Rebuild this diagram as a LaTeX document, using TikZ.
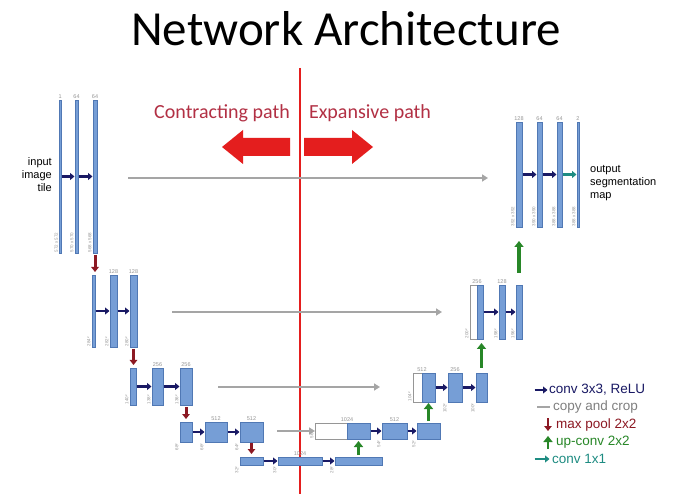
\documentclass[tikz,border=0pt]{standalone}
\usepackage{fontspec}
\setmainfont{Liberation Sans}
\newfontfamily\calib{Carlito}
\usetikzlibrary{arrows.meta}

\definecolor{barfill}{RGB}{118,158,214}
\definecolor{baredge}{RGB}{80,120,180}
\definecolor{convc}{RGB}{25,25,100}
\definecolor{copyc}{RGB}{165,165,165}
\definecolor{poolc}{RGB}{140,25,35}
\definecolor{upc}{RGB}{40,135,40}
\definecolor{onec}{RGB}{30,140,130}
\definecolor{redline}{RGB}{228,30,30}
\definecolor{pathtxt}{RGB}{178,48,68}
\definecolor{lblc}{RGB}{150,150,150}

\newcommand\mkbar[6][bar]{\node[#1, minimum width={#5-#3}, minimum height={#6-#4}] (#2) at ({(#3+#5)/2},{(#4+#6)/2}) {};}
\newcommand\toplab[3]{\node[toplbl] (#1-t) at (#2) {#3};}
\newcommand\sizelab[2]{\node[sizelbl] (#1-s) at ([xshift=-1pt]#1.south west) {#2};}
\newcommand\sizelabb[2]{\node[sizelblb] (#1-s) at ([xshift=-1pt,yshift=-1pt]#1.south west) {#2};}

\begin{document}
\begin{tikzpicture}[x=1pt,y=-1pt,
  bar/.style={rectangle, draw=baredge, fill=barfill, line width=0.6pt, inner sep=0pt, outer sep=0pt},
  wbar/.style={rectangle, draw=lblc, fill=white, line width=0.6pt, inner sep=0pt, outer sep=0pt},
  conv/.style={convc, line width=2.2pt, -{Triangle[length=4.5pt,width=7pt]}, shorten <=0.5pt, shorten >=0.5pt},
  copyarr/.style={copyc, line width=2pt, -{Triangle[length=6pt,width=7pt]}},
  pool/.style={poolc, line width=3pt, -{Triangle[length=5pt,width=7.5pt]}},
  upconv/.style={upc, line width=3.5pt, -{Triangle[length=6pt,width=9pt]}},
  onex/.style={onec, line width=2.2pt, -{Triangle[length=4.5pt,width=7pt]}, shorten <=0.5pt, shorten >=0.5pt},
  toplbl/.style={font=\fontsize{5.5}{6}\selectfont, text=lblc, anchor=south, inner sep=1pt},
  sizelbl/.style={font=\fontsize{4.5}{5}\selectfont, text=lblc, rotate=90, anchor=south west, inner sep=0.3pt},
  sizelblb/.style={font=\fontsize{4.5}{5}\selectfont, text=lblc, rotate=90, anchor=south east, inner sep=0.3pt},
  txt/.style={font=\fontsize{11}{13}\selectfont, text=black, inner sep=0pt},
  legtxt/.style={font=\fontsize{13.5}{15}\selectfont, anchor=west, inner sep=0pt},
  pathlbl/.style={font=\calib\fontsize{20}{22}\selectfont, text=pathtxt, inner sep=0pt, anchor=base}
]
\useasboundingbox (0,0) rectangle (683,494);
\fill[white] (0,0) rectangle (683,494);

% title
\node[font=\calib\fontsize{49}{52}\selectfont, anchor=base, inner sep=0pt] (title) at (346,46) {Network Architecture};

% red divider and path arrows
\coordinate (rtop) at (300,68);
\coordinate (rbot) at (300,494);
\draw[redline, line width=2pt] (rtop) -- (rbot);
\fill[redline] (290,138) -- (243,138) -- (243,130) -- (222,147) -- (243,164) -- (243,156) -- (290,156) -- cycle;
\fill[redline] (304,138) -- (352,138) -- (352,130) -- (373,147) -- (352,164) -- (352,156) -- (304,156) -- cycle;
\node[pathlbl] (ctr) at (222,119) {Contracting path};
\node[pathlbl] (exp) at (370,119) {Expansive path};

% ---------- bars ----------
% level 1 encoder
\mkbar{e11}{59.5}{100}{61}{253}
\mkbar{e12}{75}{100}{78}{253}
\mkbar{e13}{93}{100}{97}{253}
% level 2 encoder
\mkbar{e21}{92}{275}{95}{347}
\mkbar{e22}{110}{275}{117}{347}
\mkbar{e23}{130}{275}{137}{347}
% level 3 encoder
\mkbar{e31}{130}{368}{136}{405}
\mkbar{e32}{152}{368}{163}{405}
\mkbar{e33}{180}{368}{192}{405}
% level 4 encoder
\mkbar{e41}{180}{422}{192}{442}
\mkbar{e42}{205}{422}{227}{442}
\mkbar{e43}{240}{422}{263}{442}
% level 5
\mkbar{e51}{240}{457}{263}{465}
\mkbar{e52}{278}{457}{322}{465}
\mkbar{e53}{335}{457}{382}{465}
% level 4 decoder
\mkbar[wbar]{w4}{315}{423}{347}{439}
\mkbar{d41}{347}{423}{370}{439}
\mkbar{d42}{382}{423}{407}{439}
\mkbar{d43}{417}{423}{440}{439}
% level 3 decoder
\mkbar[wbar]{w3}{413}{373}{422}{402}
\mkbar{d31}{422}{373}{435}{402}
\mkbar{d32}{448}{373}{462}{402}
\mkbar{d33}{476}{373}{487}{402}
% level 2 decoder
\mkbar[wbar]{w2}{470}{285}{477}{339}
\mkbar{d21}{477}{285}{483}{339}
\mkbar{d22}{499}{285}{505}{339}
\mkbar{d23}{516}{285}{522}{339}
% level 1 decoder
\mkbar{d11}{516}{122}{522}{227}
\mkbar{d12}{537}{122}{542}{227}
\mkbar{d13}{557}{122}{562}{227}
\mkbar{d14}{577}{122}{579}{227}

% ---------- top labels ----------
\toplab{e11}{e11.north}{1}
\toplab{e12}{e12.north}{64}
\toplab{e13}{e13.north}{64}
\toplab{e22}{e22.north}{128}
\toplab{e23}{e23.north}{128}
\toplab{e32}{e32.north}{256}
\toplab{e33}{e33.north}{256}
\toplab{e42}{e42.north}{512}
\toplab{e43}{e43.north}{512}
\toplab{e52}{e52.north}{1024}
\toplab{w4}{w4.north east}{1024}
\toplab{d42}{d42.north}{512}
\toplab{w3}{w3.north east}{512}
\toplab{d32}{d32.north}{256}
\toplab{w2}{w2.north east}{256}
\toplab{d22}{d22.north}{128}
\toplab{d11}{d11.north}{128}
\toplab{d12}{d12.north}{64}
\toplab{d13}{d13.north}{64}
\toplab{d14}{d14.north}{2}

% ---------- size labels ----------
\sizelab{e11}{572 x 572}
\sizelab{e12}{570 x 570}
\sizelab{e13}{568 x 568}
\sizelab{e21}{284²}
\sizelab{e22}{282²}
\sizelab{e23}{280²}
\sizelab{e31}{140²}
\sizelab{e32}{138²}
\sizelab{e33}{136²}
\sizelabb{e41}{68²}
\sizelabb{e42}{66²}
\sizelabb{e43}{64²}
\sizelabb{e51}{32²}
\sizelabb{e52}{30²}
\sizelabb{e53}{28²}
\sizelab{w4}{56²}
\sizelabb{d42}{54²}
\sizelabb{d43}{52²}
\sizelab{w3}{104²}
\sizelabb{d32}{102²}
\sizelabb{d33}{100²}
\sizelab{w2}{200²}
\sizelab{d22}{198²}
\sizelab{d23}{196²}
\sizelab{d11}{392 x 392}
\sizelab{d12}{390 x 390}
\sizelab{d13}{388 x 388}
\sizelab{d14}{388 x 388}

% ---------- conv arrows ----------
\draw[conv] (e11.east) -- (e12.west);
\draw[conv] (e12.east) -- (e13.west);
\draw[conv] (e21.east) -- (e22.west);
\draw[conv] (e22.east) -- (e23.west);
\draw[conv] (e31.east) -- (e32.west);
\draw[conv] (e32.east) -- (e33.west);
\draw[conv] (e41.east) -- (e42.west);
\draw[conv] (e42.east) -- (e43.west);
\draw[conv] (e51.east) -- (e52.west);
\draw[conv] (e52.east) -- (e53.west);
\draw[conv] (d41.east) -- (d42.west);
\draw[conv] (d42.east) -- (d43.west);
\draw[conv] (d31.east) -- (d32.west);
\draw[conv] (d32.east) -- (d33.west);
\draw[conv] (d21.east) -- (d22.west);
\draw[conv] (d22.east) -- (d23.west);
\draw[conv] (d11.east) -- (d12.west);
\draw[conv] (d12.east) -- (d13.west);
\draw[onex] (d13.east) -- (d14.west);

% ---------- copy and crop ----------
\draw[copyarr, shorten <=31pt, shorten >=28pt] (e13.east |- 0,178) -- (d11.west |- 0,178);
\draw[copyarr, shorten <=35pt, shorten >=28pt] (e23.east |- 0,312) -- (w2.west |- 0,312);
\draw[copyarr, shorten <=26pt, shorten >=33pt] (e33.east |- 0,387) -- (w3.west |- 0,387);
\draw[copyarr, shorten <=14pt, shorten >=0pt] (e43.east |- 0,431) -- (w4.west |- 0,431);

% ---------- max pool ----------
\draw[pool, shorten <=2pt, shorten >=3pt] (e13.south) -- (e13.south |- e21.north);
\draw[pool, shorten <=2pt, shorten >=3pt] (e23.south) -- (e23.south |- e31.north);
\draw[pool, shorten <=2pt, shorten >=3pt] (e33.south) -- (e33.south |- e41.north);
\draw[pool, shorten <=1pt, shorten >=3pt] (e43.south) -- (e43.south |- e51.north);

% ---------- up-conv ----------
\draw[upconv, shorten <=2pt, shorten >=2pt] (e53.north) -- (e53.north |- d41.south);
\draw[upconv, shorten <=2pt, shorten >=1pt] (d43.north) -- (d43.north |- d31.south);
\draw[upconv, shorten <=5pt, shorten >=4pt] (d33.north) -- (d33.north |- d21.south);
\draw[upconv, shorten <=12pt, shorten >=14pt] (d23.north) -- (d23.north |- d11.south);

% ---------- side texts ----------
\node[txt, align=right, anchor=east] (inp) at (52,175) {input\\image\\tile};
\node[txt, align=left, anchor=west] (outp) at (590,183) {output\\segmentation\\map};

% ---------- legend ----------
\coordinate (l1a) at (534,390); \coordinate (l1b) at (548,390);
\draw[conv] (l1a) -- (l1b);
\node[legtxt, text=convc] (lg1) at (549,390) {conv 3x3, ReLU};
\coordinate (l2a) at (537,407); \coordinate (l2b) at (550,407);
\draw[copyc, line width=2pt] (l2a) -- (l2b);
\node[legtxt, text=gray] (lg2) at (553,407) {copy and crop};
\coordinate (l3a) at (548,418); \coordinate (l3b) at (548,431);
\draw[pool, line width=2.5pt] (l3a) -- (l3b);
\node[legtxt, text=poolc] (lg3) at (556,425) {max pool 2x2};
\coordinate (l4a) at (548,449); \coordinate (l4b) at (548,436);
\draw[upconv, line width=2.5pt] (l4a) -- (l4b);
\node[legtxt, text=upc] (lg4) at (556,442) {up-conv 2x2};
\coordinate (l5a) at (534,459); \coordinate (l5b) at (550,459);
\draw[onex] (l5a) -- (l5b);
\node[legtxt, text=onec] (lg5) at (552,459) {conv 1x1};
\end{tikzpicture}
\end{document}
